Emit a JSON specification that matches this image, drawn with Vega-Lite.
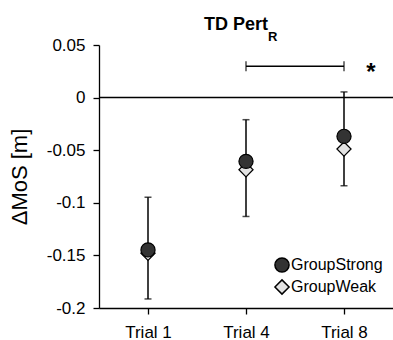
{
  "$schema": "https://vega.github.io/schema/vega-lite/v6.json",
  "width": 294,
  "height": 263,
  "autosize": "none",
  "padding": {"left": 99, "top": 45, "right": 0, "bottom": 32},
  "background": "white",
  "config": {
    "font": "Liberation Sans",
    "view": {"stroke": null},
    "axis": {"labelFont": "Liberation Sans", "titleFont": "Liberation Sans", "domainColor": "black", "tickColor": "black", "labelColor": "black", "titleColor": "black", "grid": false, "domainWidth": 1.3, "tickWidth": 1.3}
  },
  "datasets": {
    "pts": [
      {"trial": "Trial 1", "group": "GroupWeak", "value": -0.148},
      {"trial": "Trial 4", "group": "GroupWeak", "value": -0.0686},
      {"trial": "Trial 8", "group": "GroupWeak", "value": -0.0489},
      {"trial": "Trial 1", "group": "GroupStrong", "value": -0.1448},
      {"trial": "Trial 4", "group": "GroupStrong", "value": -0.0606},
      {"trial": "Trial 8", "group": "GroupStrong", "value": -0.0368}
    ],
    "err": [
      {"trial": "Trial 1", "lo": -0.1914, "hi": -0.0947},
      {"trial": "Trial 4", "lo": -0.113, "hi": -0.021},
      {"trial": "Trial 8", "lo": -0.0838, "hi": 0.0054}
    ],
    "sig": [
      {"from": "Trial 4", "to": "Trial 8", "y": 0.0298}
    ],
    "zero": [{"y": 0}],
    "ttl": [{"trial": "Trial 4", "main": "TD Pert", "sub": "R"}]
  },
  "encoding": {
    "x": {
      "field": "trial", "type": "ordinal",
      "scale": {"type": "point", "domain": ["Trial 1", "Trial 4", "Trial 8"], "padding": 0.5},
      "axis": {"title": null, "labelAngle": 0, "labelFontSize": 17, "tickSize": 6, "labelPadding": 10}
    }
  },
  "layer": [
    {
      "data": {"name": "zero"},
      "mark": {"type": "rule", "color": "black", "strokeWidth": 1.5},
      "encoding": {"x": null, "y": {"field": "y", "type": "quantitative"}}
    },
    {
      "data": {"name": "err"},
      "mark": {"type": "rule", "color": "black", "strokeWidth": 1.5},
      "encoding": {
        "y": {"field": "lo", "type": "quantitative"},
        "y2": {"field": "hi"}
      }
    },
    {
      "data": {"name": "err"},
      "mark": {"type": "tick", "color": "black", "size": 7, "thickness": 1.5, "orient": "horizontal"},
      "encoding": {"y": {"field": "lo", "type": "quantitative"}}
    },
    {
      "data": {"name": "err"},
      "mark": {"type": "tick", "color": "black", "size": 7, "thickness": 1.5, "orient": "horizontal"},
      "encoding": {"y": {"field": "hi", "type": "quantitative"}}
    },
    {
      "data": {"name": "sig"},
      "mark": {"type": "rule", "color": "black", "strokeWidth": 1.5},
      "encoding": {
        "x": {"field": "from", "type": "ordinal"},
        "x2": {"field": "to"},
        "y": {"field": "y", "type": "quantitative"}
      }
    },
    {
      "data": {"name": "sig"},
      "mark": {"type": "tick", "color": "black", "size": 10, "thickness": 1.5, "orient": "vertical"},
      "encoding": {"x": {"field": "from", "type": "ordinal"}, "y": {"field": "y", "type": "quantitative"}}
    },
    {
      "data": {"name": "sig"},
      "mark": {"type": "tick", "color": "black", "size": 10, "thickness": 1.5, "orient": "vertical"},
      "encoding": {"x": {"field": "to", "type": "ordinal"}, "y": {"field": "y", "type": "quantitative"}}
    },
    {
      "data": {"name": "sig"},
      "mark": {"type": "text", "text": "*", "fontSize": 24, "fontWeight": "bold", "dx": 27, "dy": 7, "baseline": "middle", "align": "center", "color": "black"},
      "encoding": {"x": {"field": "to", "type": "ordinal"}, "y": {"field": "y", "type": "quantitative"}}
    },
    {
      "data": {"name": "ttl"},
      "mark": {"type": "text", "fontSize": 18, "fontWeight": "bold", "dx": -10, "dy": -15, "baseline": "alphabetic", "align": "center", "color": "black", "clip": false},
      "encoding": {"x": {"field": "trial", "type": "ordinal"}, "y": {"datum": 0.05, "type": "quantitative"}, "text": {"field": "main"}}
    },
    {
      "data": {"name": "ttl"},
      "mark": {"type": "text", "fontSize": 13, "fontWeight": "bold", "dx": 22, "dy": -4, "baseline": "alphabetic", "align": "left", "color": "black", "clip": false},
      "encoding": {"x": {"field": "trial", "type": "ordinal"}, "y": {"datum": 0.05, "type": "quantitative"}, "text": {"field": "sub"}}
    },
    {
      "data": {"name": "pts"},
      "mark": {"type": "point", "filled": true, "stroke": "black", "strokeWidth": 1.2, "opacity": 1, "size": 200},
      "encoding": {
        "y": {
          "field": "value", "type": "quantitative",
          "scale": {"domain": [-0.2, 0.05], "nice": false, "zero": false},
          "axis": {
            "title": "ΔMoS [m]", "titleFontSize": 22, "titleFontWeight": "normal", "titlePadding": 15,
            "values": [-0.2, -0.15, -0.1, -0.05, 0, 0.05],
            "labelExpr": "replace(format(datum.value, '.2~f'), '\u2212', '-')",
            "labelFontSize": 17, "tickSize": 6, "labelPadding": 8
          }
        },
        "stroke": {"value": "black"},
        "shape": {
          "field": "group", "type": "nominal",
          "scale": {"domain": ["GroupStrong", "GroupWeak"], "range": ["circle", "diamond"]},
          "legend": {"title": null, "orient": "bottom-right", "offset": 10, "labelFontSize": 16, "labelFont": "Liberation Sans", "labelColor": "black", "symbolSize": 200, "rowPadding": 0, "labelOffset": 1,
            "encode": {"symbols": {"update": {"stroke": {"value": "black"}, "strokeWidth": {"value": 1.2}}}}}
        },
        "fill": {
          "field": "group", "type": "nominal",
          "scale": {"domain": ["GroupStrong", "GroupWeak"], "range": ["#333333", "#e3e3e3"]},
          "legend": null
        }
      }
    }
  ]
}
